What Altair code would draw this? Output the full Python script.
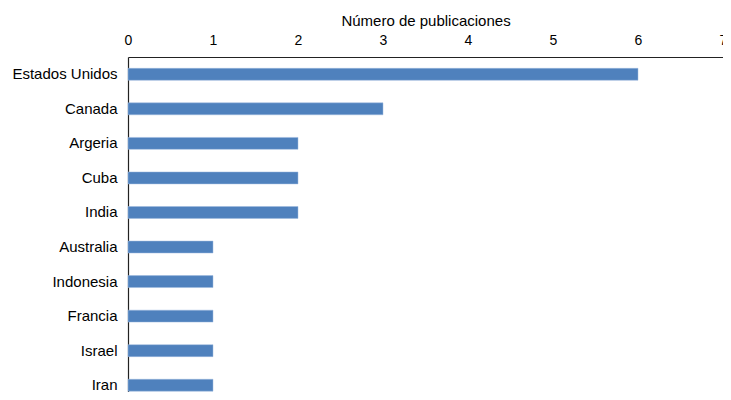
import altair as alt
import pandas as pd

countries = ["Estados Unidos", "Canada", "Argeria", "Cuba", "India",
             "Australia", "Indonesia", "Francia", "Israel", "Iran"]
publications = [6, 3, 2, 2, 2, 1, 1, 1, 1, 1]
x_ticks = [0, 1, 2, 3, 4, 5, 6, 7]

df = pd.DataFrame({"pais": countries, "n": publications})

FONT = "Liberation Sans"

chart = alt.Chart(df).mark_bar(color="#4F81BD", stroke="#9DB9DE", strokeWidth=0.5).encode(
    x=alt.X("n:Q",
            scale=alt.Scale(domain=[0, 7], nice=False),
            axis=alt.Axis(orient="top", values=x_ticks, format="d", title="Número de publicaciones",
                          grid=False, ticks=False, labelPadding=10, titlePadding=5,
                          domainColor="#222222", domainWidth=1.2,
                          labelFont=FONT, labelFontSize=14, labelColor="#000000",
                          titleFont=FONT, titleFontSize=15, titleFontWeight="normal",
                          titleColor="#000000", labelFlush=False)),
    y=alt.Y("pais:N", sort=countries,
            scale=alt.Scale(range=[0, 345.5], paddingInner=0.655, paddingOuter=0.3275),
            axis=alt.Axis(title=None, ticks=False, labelPadding=11, grid=False,
                          domainColor="#222222", domainWidth=1.2,
                          labelFont=FONT, labelFontSize=15, labelColor="#000000")),
).properties(
    width=595, height=335,
    autosize=alt.AutoSizeParams(type="none"),
    padding={"left": 120, "top": 49, "right": 0, "bottom": 0},
).configure_view(stroke=None)

chart.save("out.html", embed_options={"renderer": "svg", "actions": False})
